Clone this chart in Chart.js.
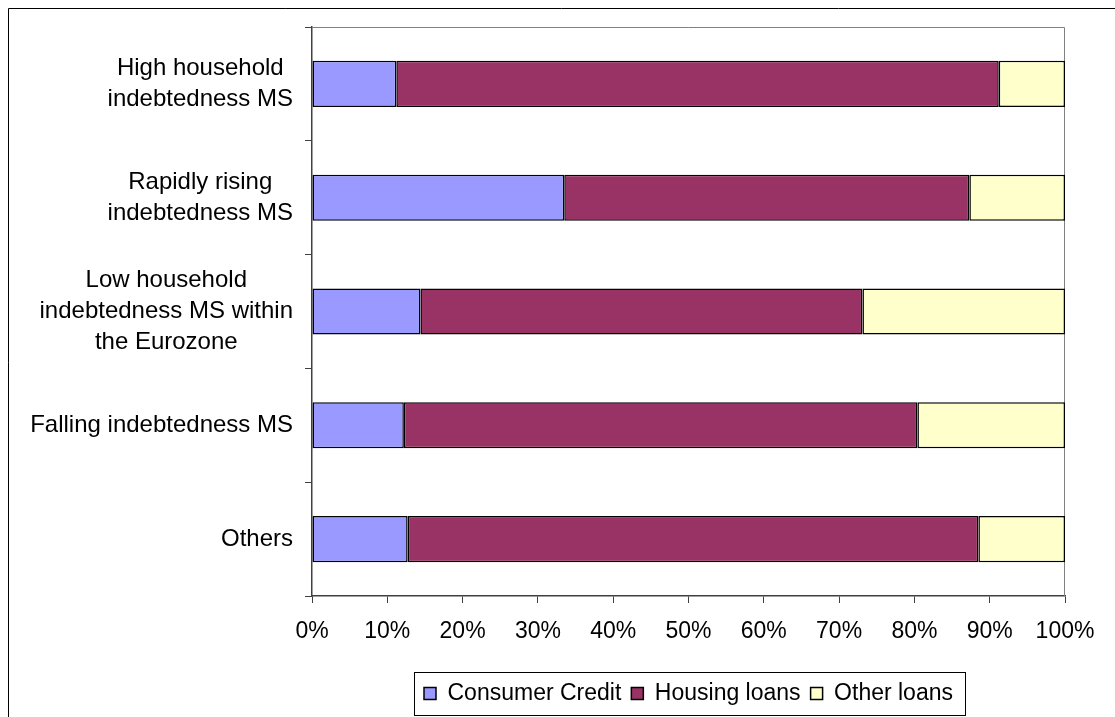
<!DOCTYPE html>
<html>
<head>
<meta charset="utf-8">
<script src="https://cdn.jsdelivr.net/npm/chart.js@4/dist/chart.umd.min.js"></script>
<style>
  body { margin: 0; background: #fff; }
  canvas { display: block; }
</style>
</head>
<body>
<canvas id="chart" width="1115" height="717"></canvas>
<script>
'use strict';

var categories = [
  ['High household', 'indebtedness MS'],
  ['Rapidly rising', 'indebtedness MS'],
  ['Low household', 'indebtedness MS within', 'the Eurozone'],
  ['Falling indebtedness MS'],
  ['Others']
];
var consumerCredit = [11.2, 33.5, 14.4, 12.2, 12.7];
var housingLoans = [80.0, 53.8, 58.7, 68.2, 75.8];
var otherLoans = [8.8, 12.7, 26.9, 19.6, 11.5];
var xTicks = [0, 10, 20, 30, 40, 50, 60, 70, 80, 90, 100];

var fontFamily = '"Liberation Sans", Arial, sans-serif';

function dataset(label, values, color) {
  return {
    label: label,
    data: values,
    backgroundColor: color,
    borderColor: '#000',
    borderWidth: 1.5,
    borderSkipped: false,
    barPercentage: 0.405,
    categoryPercentage: 1
  };
}

// outer frame, plot box, centred category labels and legend frame
var decor = {
  id: 'decor',
  beforeDraw: function(chart) {
    var c = chart.ctx;
    c.save();
    c.fillStyle = '#fff';
    c.fillRect(0, 0, chart.width, chart.height);
    c.strokeStyle = '#000';
    c.lineWidth = 1;
    c.beginPath();
    c.moveTo(8.5, chart.height);
    c.lineTo(8.5, 8.5);
    c.lineTo(chart.width, 8.5);
    c.stroke();
    c.restore();
  },
  beforeDatasetsDraw: function(chart) {
    var a = chart.chartArea;
    var c = chart.ctx;
    c.save();
    c.strokeStyle = '#808080';
    c.lineWidth = 1;
    c.beginPath();
    c.moveTo(a.left, a.top + 0.5);
    c.lineTo(a.right - 0.5, a.top + 0.5);
    c.lineTo(a.right - 0.5, a.bottom);
    c.stroke();
    c.restore();
  },
  afterDraw: function(chart) {
    var c = chart.ctx;
    var y = chart.scales.y;
    var right = chart.chartArea.left - 7 - 12;
    c.save();
    c.fillStyle = '#000';
    c.font = '24px ' + fontFamily;
    c.textAlign = 'center';
    c.textBaseline = 'middle';
    categories.forEach(function(lines, i) {
      var widest = 0;
      lines.forEach(function(l) {
        widest = Math.max(widest, c.measureText(l).width);
      });
      var cx = right - widest / 2;
      var cy = y.getPixelForValue(i);
      var lh = 31;
      lines.forEach(function(l, j) {
        c.fillText(l, cx, cy + (j - (lines.length - 1) / 2) * lh);
      });
    });

    var boxes = chart.legend.legendHitBoxes;
    var left = Infinity, rightEdge = -Infinity, top = Infinity, bottom = -Infinity;
    boxes.forEach(function(b) {
      left = Math.min(left, b.left);
      rightEdge = Math.max(rightEdge, b.left + b.width);
      top = Math.min(top, b.top);
      bottom = Math.max(bottom, b.top + b.height);
    });
    c.strokeStyle = '#000';
    c.lineWidth = 1;
    c.strokeRect(Math.round(left - 10) + 0.5, Math.round(top - 10) + 0.5,
      Math.round(rightEdge - left + 22), Math.round(bottom - top + 20));
    c.restore();
  }
};

var ctx = document.getElementById('chart').getContext('2d');
var chart = new Chart(ctx, {
  type: 'bar',
  data: {
    labels: categories,
    datasets: [
      dataset('Consumer Credit', consumerCredit, '#9999FF'),
      dataset('Housing loans', housingLoans, '#993366'),
      dataset('Other loans', otherLoans, '#FFFFCC')
    ]
  },
  options: {
    indexAxis: 'y',
    responsive: false,
    animation: false,
    layout: { padding: { left: 0, right: 50, top: 27, bottom: 2 } },
    scales: {
      x: {
        stacked: true,
        min: 0,
        max: 100,
        afterBuildTicks: function(scale) {
          scale.ticks = xTicks.map(function(v) { return { value: v }; });
        },
        afterFit: function(scale) { scale.height = 76; },
        ticks: {
          padding: 15,
          color: '#000',
          maxRotation: 0,
          font: { family: fontFamily, size: 23 },
          callback: function(v) { return v + '%'; }
        },
        grid: { drawOnChartArea: false, tickLength: 7, color: '#404040' },
        border: { color: '#404040', width: 1.5 }
      },
      y: {
        stacked: true,
        afterFit: function(scale) { scale.width = 312; },
        ticks: { display: false },
        grid: { drawOnChartArea: false, tickLength: 7, color: '#404040' },
        border: { color: '#404040', width: 1.5 }
      }
    },
    plugins: {
      legend: {
        position: 'bottom',
        fullSize: false,
        labels: {
          boxWidth: 12,
          boxHeight: 12,
          padding: 10,
          color: '#000',
          font: { family: fontFamily, size: 23 }
        }
      },
      tooltip: { enabled: false }
    }
  },
  plugins: [decor]
});
</script>
</body>
</html>
